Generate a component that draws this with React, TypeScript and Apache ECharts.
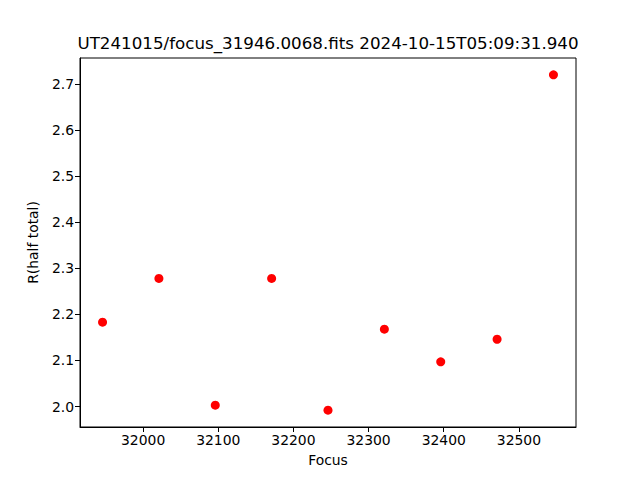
import React, { useEffect, useRef } from "react";
import * as echarts from "echarts";

const focusValues = [31946, 32021, 32096, 32171, 32246, 32321, 32396, 32471, 32546];
const rValues = [2.183, 2.278, 2.003, 2.278, 1.992, 2.168, 2.097, 2.146, 2.72];
const xTicks = [32000, 32100, 32200, 32300, 32400, 32500];
const yTicks = [2.0, 2.1, 2.2, 2.3, 2.4, 2.5, 2.6, 2.7];
const titleText = "UT241015/focus_31946.0068.fits 2024-10-15T05:09:31.940";

export default function App() {
  const ref = useRef<HTMLDivElement>(null);
  useEffect(() => {
    if (!ref.current) return;
    const chart = echarts.init(ref.current, null, { renderer: "svg" });
    const xmin = Math.min(...focusValues), xmax = Math.max(...focusValues);
    const ymin = Math.min(...rValues), ymax = Math.max(...rValues);
    const xm = (xmax - xmin) * 0.05, ym = (ymax - ymin) * 0.05;
    const font = "DejaVu Sans";
    chart.setOption({
      animation: false,
      backgroundColor: "#ffffff",
      textStyle: { fontFamily: font },
      grid: {
        left: 80, right: 64, top: 58, bottom: 53,
        show: true, borderColor: "#000", borderWidth: 1, backgroundColor: "transparent",
      },
      graphic: [
        {
          type: "text", x: 328, y: 51,
          style: { text: titleText, font: "16.7px DejaVu Sans", fill: "#000", textAlign: "center", textVerticalAlign: "bottom" },
        },
      ],
      xAxis: {
        type: "value", min: xmin - xm, max: xmax + xm,
        name: "Focus", nameLocation: "middle", nameGap: 26,
        nameTextStyle: { fontFamily: font, fontSize: 13.9, color: "#000" },
        axisLine: { show: true, lineStyle: { color: "#000", width: 1 } },
        axisTick: { show: true, inside: false, length: 5, lineStyle: { color: "#000" }, customValues: xTicks },
        axisLabel: { color: "#000", fontSize: 13.9, fontFamily: font, margin: 6, customValues: xTicks, formatter: (v: number) => String(v) },
        splitLine: { show: false },
      },
      yAxis: {
        type: "value", min: ymin - ym, max: ymax + ym,
        name: "R(half total)", nameLocation: "middle", nameGap: 40, nameRotate: 90,
        nameTextStyle: { fontFamily: font, fontSize: 13.9, color: "#000" },
        axisLine: { show: true, lineStyle: { color: "#000", width: 1 } },
        axisTick: { show: true, inside: false, length: 5, lineStyle: { color: "#000" }, customValues: yTicks },
        axisLabel: { color: "#000", fontSize: 13.9, fontFamily: font, margin: 6, customValues: yTicks, formatter: (v: number) => v.toFixed(1) },
        splitLine: { show: false },
      },
      series: [
        {
          type: "scatter",
          data: focusValues.map((f, i) => [f, rValues[i]]),
          symbol: "circle", symbolSize: 9,
          itemStyle: { color: "#ff0000", opacity: 1 },
        },
      ],
    });
    return () => chart.dispose();
  }, []);
  return <div ref={ref} style={{ width: 640, height: 480, position: "absolute", left: 0, top: 0 }} />;
}
